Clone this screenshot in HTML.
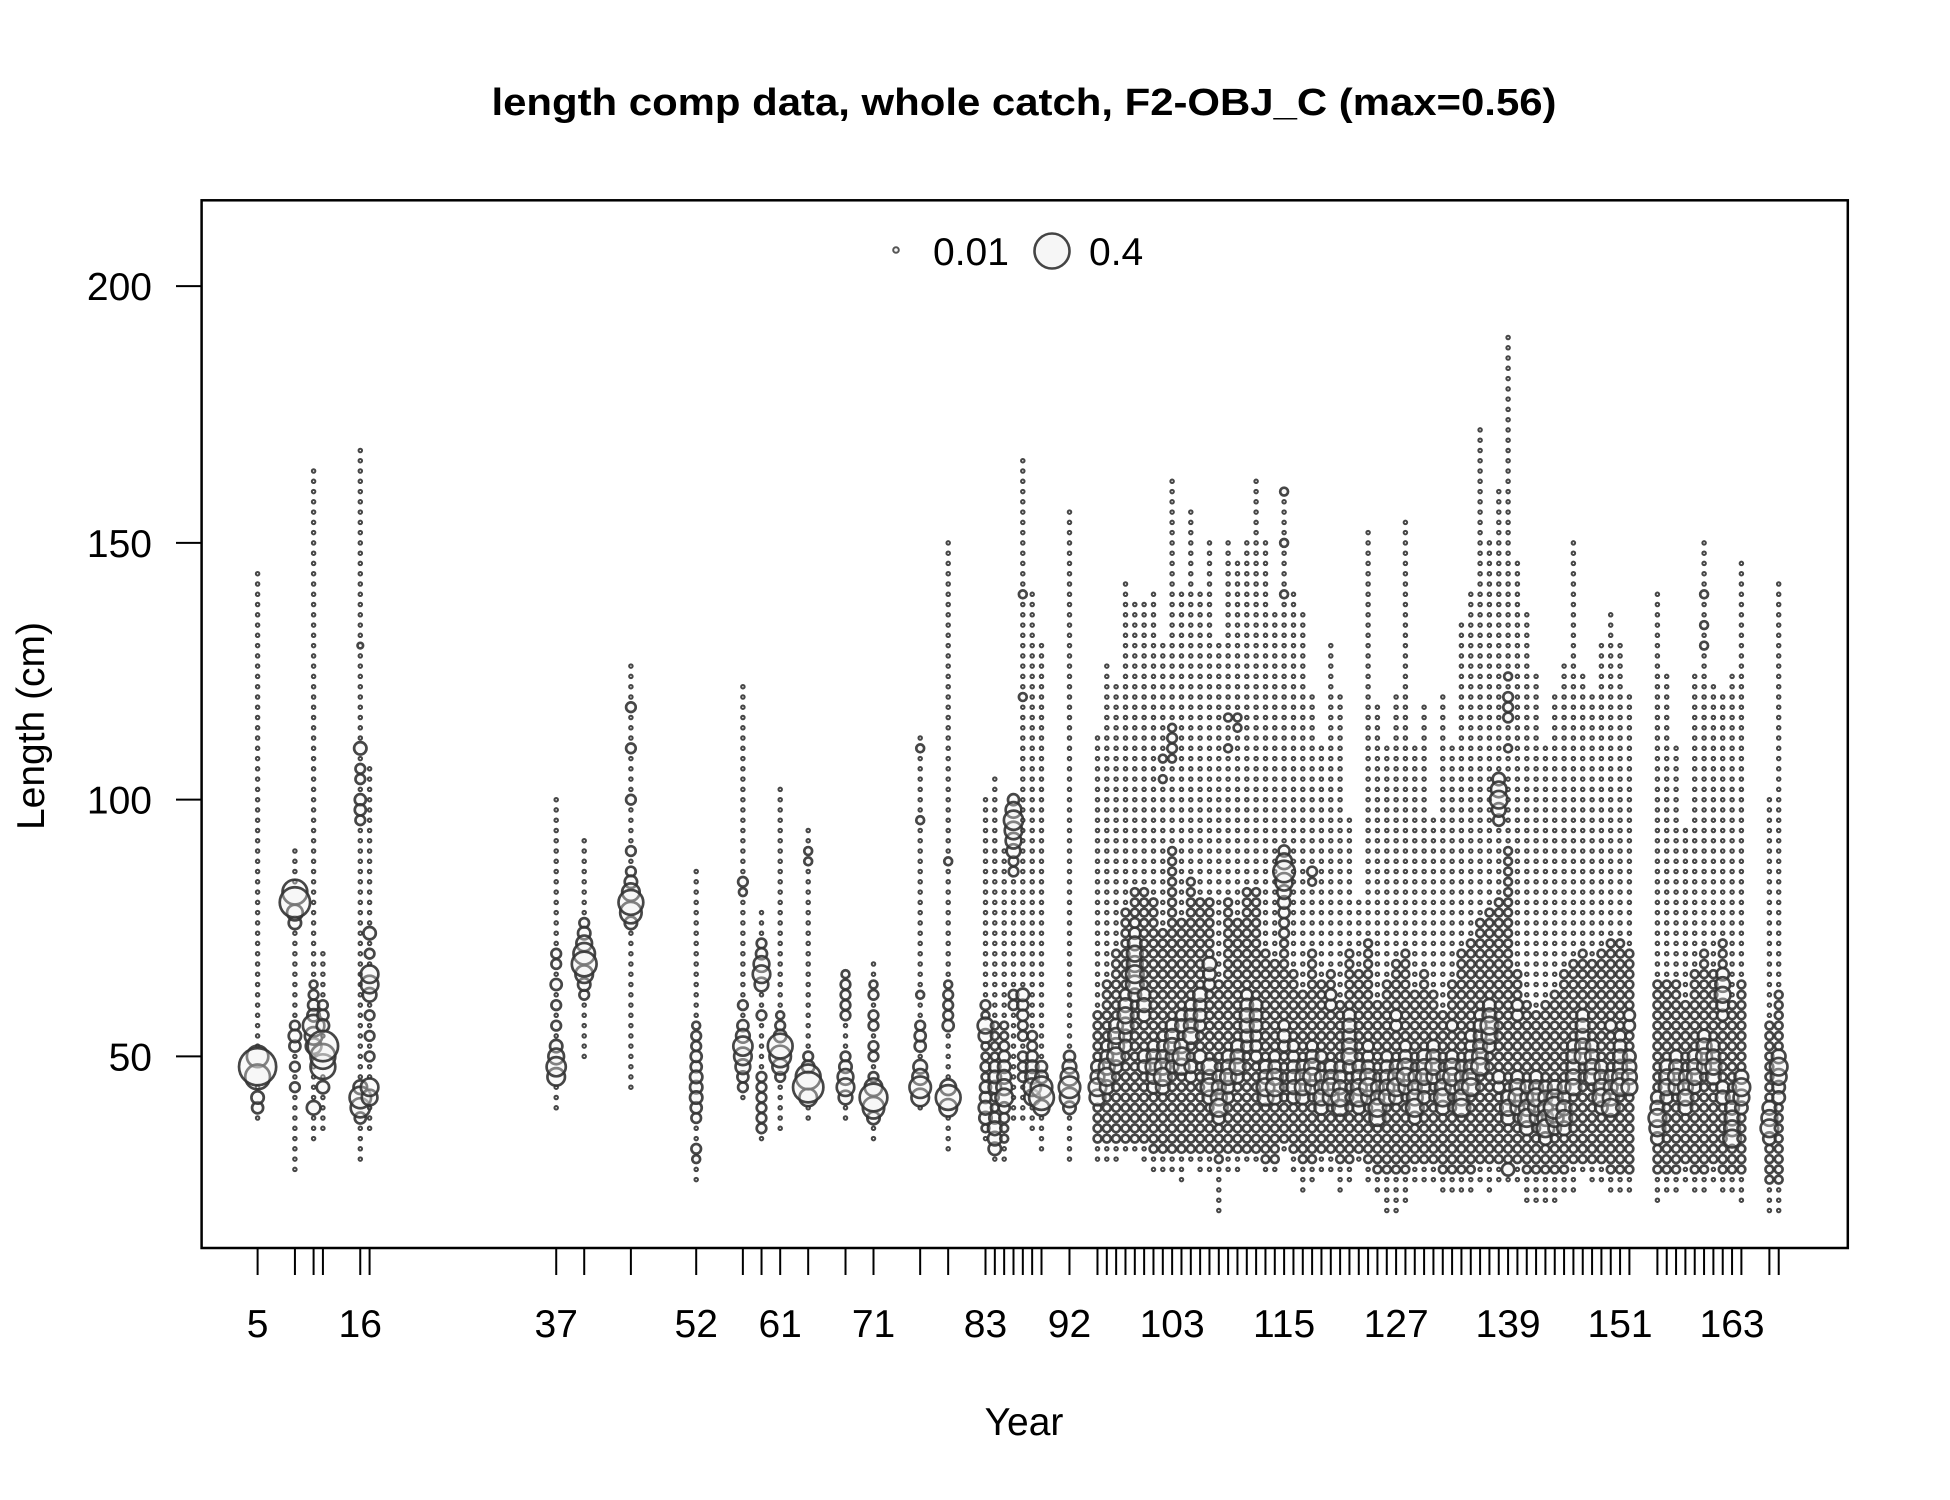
<!DOCTYPE html>
<html><head><meta charset="utf-8"><style>
html,body{margin:0;padding:0;background:#fff}
svg{display:block;font-family:"Liberation Sans",Arial,sans-serif}
</style></head><body>
<svg id="chart" width="1950" height="1500" viewBox="0 0 1950 1500" xmlns="http://www.w3.org/2000/svg">
<rect x="0" y="0" width="1950" height="1500" fill="#fff"/>
<text x="1024" y="115" text-anchor="middle" font-size="38" font-weight="bold" textLength="1065" lengthAdjust="spacingAndGlyphs">length comp data, whole catch, F2-OBJ_C (max=0.56)</text>
<g id="marks"></g>
<rect x="201.6" y="200.3" width="1646.2" height="1047.7" fill="none" stroke="#000" stroke-width="2.5"/>
<g id="yaxis"></g>
<g id="xaxis"></g>
<text transform="translate(44,726) rotate(-90)" text-anchor="middle" font-size="39">Length (cm)</text>
<text x="1024" y="1435" text-anchor="middle" font-size="39">Year</text>
<g>
<circle cx="896" cy="250" r="2.8" fill="rgba(240,240,240,0.5)" stroke="#555" stroke-width="2"/>
<text x="933" y="265" font-size="39">0.01</text>
<circle cx="1052" cy="251" r="17.5" fill="rgba(240,240,240,0.6)" stroke="#444" stroke-width="2.6"/>
<text x="1089" y="265" font-size="39">0.4</text>
</g>
</svg>
<script>
const years = [5,9,11,12,16,17,37,40,45,52,57,59,61,64,68,71,76,79,83,84,85,86,87,88,89,92,
95,96,97,98,99,100,101,102,103,104,105,106,107,108,109,110,111,112,113,114,115,116,117,118,119,120,121,122,123,124,125,126,127,128,129,130,131,132,133,134,135,136,137,138,139,140,141,142,143,144,145,146,147,148,149,150,151,152,155,156,157,158,159,160,161,162,163,164,167,168];
const minLen = [38,28,34,36,30,36,40,50,44,26,42,34,36,38,38,34,40,32,34,30,30,38,38,36,32,30,
30,30,30,32,32,30,28,28,28,26,30,28,28,20,28,28,30,30,28,28,32,28,24,26,28,28,24,26,30,26,24,20,20,22,26,26,26,24,24,24,24,26,24,26,26,26,22,22,22,22,24,24,28,26,26,24,24,24,22,24,24,26,24,24,26,24,24,22,20,20];
const maxLen = [144,90,164,70,168,106,100,92,126,86,122,78,102,94,66,68,112,150,100,104,90,100,166,140,130,156,
112,126,122,142,138,138,140,130,162,140,156,140,150,130,150,146,150,162,150,136,160,140,136,120,110,130,120,96,80,152,118,110,120,154,110,118,96,120,110,134,140,172,150,160,190,146,136,124,110,120,126,150,124,120,130,136,130,120,140,124,110,94,124,150,122,120,124,146,100,142];
const coreLo = [0,0,0,0,0,0,0,0,0,0,0,0,0,0,0,0,0,0,36,32,34,0,0,0,0,0,
34,34,34,34,34,34,32,32,32,32,32,32,32,30,32,32,32,32,30,30,34,32,30,30,32,32,30,30,32,30,28,28,28,28,30,30,30,28,28,28,28,30,30,30,30,30,28,28,28,28,28,30,30,30,30,28,28,28,28,28,28,30,28,28,30,28,28,28,26,26];
const coreHi = [0,0,0,0,0,0,0,0,0,0,0,0,0,0,0,0,0,0,60,56,56,0,0,0,0,0,
58,64,70,78,82,82,80,74,90,76,84,80,80,64,80,76,82,82,70,68,80,66,62,70,64,66,60,70,66,72,60,64,68,70,62,66,62,58,64,70,72,76,78,80,90,66,60,58,60,62,66,68,70,68,70,72,72,70,64,64,64,60,66,70,66,72,60,64,56,62];
const peaks = [
[[48,0.45],[46,0.2],[50,0.15],[42,0.05],[40,0.04]],
[[80,0.3],[82,0.2],[78,0.08],[76,0.05],[54,0.05],[52,0.04],[56,0.03],[48,0.03],[44,0.03]],
[[56,0.15],[54,0.1],[52,0.08],[40,0.06],[58,0.05],[60,0.04],[62,0.03],[64,0.02]],
[[52,0.3],[48,0.2],[50,0.2],[44,0.05],[56,0.05],[58,0.04],[60,0.03]],
[[42,0.15],[40,0.12],[110,0.05],[100,0.04],[98,0.04],[96,0.03],[104,0.03],[106,0.03],[44,0.06],[38,0.04],[130,0.01]],
[[64,0.1],[66,0.1],[62,0.06],[44,0.1],[42,0.08],[74,0.05],[70,0.03],[58,0.03],[54,0.03],[50,0.03]],
[[48,0.12],[46,0.1],[50,0.08],[52,0.05],[56,0.03],[60,0.03],[64,0.04],[68,0.03],[70,0.03]],
[[68,0.2],[70,0.15],[66,0.1],[72,0.08],[74,0.05],[64,0.05],[76,0.03],[62,0.03]],
[[80,0.2],[78,0.15],[82,0.1],[76,0.05],[84,0.05],[90,0.03],[100,0.03],[110,0.03],[118,0.03],[86,0.03]],
[[44,0.05],[46,0.05],[42,0.05],[48,0.04],[50,0.04],[40,0.04],[38,0.03],[52,0.03],[54,0.03],[56,0.02],[32,0.03],[30,0.02]],
[[52,0.12],[50,0.1],[48,0.07],[54,0.06],[56,0.04],[46,0.04],[44,0.03],[60,0.03],[84,0.03],[82,0.02]],
[[66,0.1],[68,0.08],[64,0.06],[70,0.04],[72,0.03],[58,0.03],[40,0.03],[38,0.03],[36,0.03],[42,0.03],[44,0.03],[46,0.03]],
[[52,0.2],[50,0.15],[48,0.08],[54,0.05],[46,0.03],[56,0.03],[58,0.02]],
[[44,0.3],[46,0.2],[42,0.1],[48,0.05],[50,0.03],[88,0.02],[90,0.02]],
[[44,0.1],[46,0.08],[42,0.06],[48,0.05],[50,0.03],[58,0.03],[60,0.03],[62,0.03],[64,0.03],[66,0.02]],
[[42,0.25],[40,0.15],[44,0.1],[38,0.05],[46,0.03],[50,0.03],[52,0.03],[56,0.03],[58,0.03],[62,0.03],[64,0.02]],
[[44,0.15],[42,0.1],[46,0.08],[48,0.06],[52,0.04],[54,0.04],[56,0.03],[62,0.02],[96,0.02],[110,0.02]],
[[42,0.2],[40,0.1],[44,0.08],[56,0.04],[58,0.03],[60,0.03],[62,0.03],[64,0.02],[88,0.02]],
[[56,0.08],[54,0.06],[40,0.06],[38,0.05],[42,0.04],[44,0.04],[60,0.03],[48,0.03]],
[[34,0.06],[32,0.05],[36,0.06],[44,0.05],[46,0.05],[48,0.04],[38,0.04]],
[[42,0.1],[44,0.08],[46,0.06],[48,0.05],[50,0.04],[40,0.04],[52,0.03],[38,0.03]],
[[96,0.12],[94,0.1],[92,0.08],[98,0.08],[90,0.06],[100,0.04],[88,0.03],[86,0.03],[62,0.03],[60,0.03]],
[[62,0.05],[60,0.04],[58,0.04],[56,0.03],[54,0.03],[50,0.03],[48,0.03],[46,0.03],[140,0.02],[120,0.02]],
[[44,0.1],[42,0.08],[46,0.06],[48,0.05],[50,0.04],[52,0.03],[54,0.03]],
[[42,0.2],[44,0.15],[40,0.08],[46,0.05],[48,0.04]],
[[44,0.15],[42,0.12],[46,0.1],[48,0.06],[40,0.05],[50,0.04]],
[[44,0.1],[42,0.08],[46,0.06],[48,0.05]],
[[46,0.1],[48,0.08],[44,0.06],[50,0.05],[52,0.04]],
[[50,0.1],[52,0.08],[54,0.08],[56,0.06],[48,0.05]],
[[56,0.08],[58,0.08],[60,0.06],[54,0.05],[52,0.05],[62,0.04]],
[[64,0.1],[66,0.1],[68,0.08],[70,0.08],[72,0.06],[62,0.05],[74,0.04],[76,0.03]],
[[60,0.06],[62,0.05],[58,0.05],[50,0.05],[48,0.05]],
[[48,0.08],[46,0.06],[50,0.06],[44,0.05],[52,0.04]],
[[46,0.1],[48,0.08],[44,0.06],[50,0.05],[52,0.04],[54,0.03],[104,0.02],[108,0.02]],
[[52,0.08],[54,0.06],[56,0.05],[50,0.05],[48,0.05],[110,0.03],[112,0.03],[114,0.02],[108,0.02]],
[[50,0.1],[48,0.08],[52,0.06],[56,0.05],[58,0.04]],
[[54,0.08],[56,0.06],[58,0.05],[60,0.04],[48,0.05],[46,0.04]],
[[62,0.06],[60,0.05],[58,0.05],[56,0.04],[50,0.05]],
[[48,0.08],[44,0.1],[42,0.06],[46,0.06],[68,0.06],[66,0.05],[64,0.04]],
[[40,0.1],[42,0.08],[44,0.06],[46,0.05],[38,0.05]],
[[46,0.08],[48,0.06],[50,0.05],[44,0.05],[42,0.04],[110,0.02],[116,0.02]],
[[48,0.08],[50,0.06],[52,0.05],[46,0.05],[114,0.02],[116,0.02]],
[[56,0.06],[58,0.06],[60,0.05],[54,0.05],[52,0.04],[62,0.04]],
[[60,0.05],[58,0.05],[56,0.05],[54,0.04],[52,0.04],[50,0.04]],
[[44,0.1],[42,0.08],[46,0.06],[48,0.05]],
[[44,0.1],[46,0.08],[42,0.06],[48,0.05],[50,0.04]],
[[86,0.15],[84,0.1],[88,0.08],[82,0.06],[80,0.05],[90,0.04],[78,0.04],[76,0.03],[74,0.03],[54,0.05],[56,0.04],[52,0.04],[140,0.02],[150,0.02],[160,0.02]],
[[46,0.06],[44,0.06],[42,0.05],[48,0.05],[50,0.04],[52,0.04]],
[[44,0.08],[46,0.07],[42,0.06],[48,0.05]],
[[46,0.1],[48,0.08],[44,0.06],[50,0.05],[52,0.04],[86,0.03],[84,0.02]],
[[42,0.08],[40,0.06],[44,0.06],[46,0.05],[50,0.04]],
[[44,0.1],[42,0.08],[46,0.06],[48,0.05],[60,0.04],[62,0.04]],
[[42,0.1],[40,0.08],[44,0.06],[46,0.05],[48,0.04]],
[[50,0.08],[52,0.07],[54,0.06],[56,0.06],[58,0.05],[48,0.05]],
[[42,0.1],[44,0.08],[46,0.06],[48,0.05],[40,0.05]],
[[44,0.1],[46,0.08],[42,0.06],[48,0.05],[50,0.04],[52,0.04]],
[[40,0.1],[38,0.08],[42,0.06],[44,0.05]],
[[42,0.08],[44,0.07],[46,0.06],[48,0.05],[50,0.04]],
[[44,0.1],[46,0.08],[42,0.06],[48,0.05],[56,0.04],[58,0.04]],
[[46,0.1],[48,0.08],[44,0.06],[50,0.05],[52,0.04]],
[[40,0.1],[42,0.08],[44,0.06],[46,0.05],[38,0.05]],
[[46,0.08],[48,0.07],[50,0.06],[44,0.05],[42,0.05]],
[[48,0.08],[50,0.06],[46,0.06],[52,0.05]],
[[42,0.1],[44,0.08],[40,0.06],[46,0.05]],
[[46,0.1],[48,0.08],[44,0.06],[50,0.05],[56,0.04]],
[[40,0.1],[42,0.08],[44,0.06],[46,0.05],[48,0.04]],
[[44,0.1],[46,0.08],[48,0.06],[50,0.05],[52,0.04],[54,0.04]],
[[48,0.1],[50,0.08],[52,0.06],[54,0.05],[56,0.05],[58,0.04]],
[[56,0.1],[54,0.08],[58,0.06],[60,0.05],[52,0.05]],
[[100,0.1],[102,0.08],[98,0.06],[104,0.05],[96,0.04],[46,0.05],[44,0.04]],
[[40,0.08],[42,0.06],[38,0.06],[28,0.05],[120,0.03],[118,0.03],[116,0.03],[124,0.02],[110,0.02]],
[[42,0.1],[44,0.08],[40,0.06],[46,0.05],[58,0.04],[60,0.04]],
[[38,0.1],[40,0.08],[36,0.06],[42,0.05],[44,0.05]],
[[42,0.1],[40,0.08],[44,0.06],[46,0.05],[38,0.05]],
[[36,0.1],[38,0.08],[40,0.07],[42,0.06],[44,0.05],[34,0.05]],
[[40,0.15],[38,0.1],[42,0.08],[44,0.06],[36,0.05]],
[[38,0.08],[40,0.07],[36,0.06],[42,0.05],[44,0.05]],
[[44,0.08],[46,0.07],[48,0.06],[50,0.06],[52,0.05]],
[[50,0.08],[52,0.07],[54,0.06],[56,0.06],[58,0.05]],
[[46,0.08],[48,0.07],[50,0.06],[52,0.05]],
[[42,0.1],[44,0.08],[46,0.06],[48,0.05],[40,0.05]],
[[40,0.1],[42,0.08],[44,0.06],[46,0.05],[56,0.04]],
[[44,0.1],[46,0.08],[48,0.06],[50,0.06],[52,0.05],[54,0.04]],
[[44,0.08],[46,0.07],[48,0.06],[50,0.05],[56,0.04],[58,0.04]],
[[38,0.1],[36,0.08],[40,0.06],[42,0.05],[34,0.05]],
[[44,0.08],[46,0.07],[48,0.06],[42,0.05]],
[[46,0.08],[44,0.07],[48,0.06],[50,0.05]],
[[42,0.08],[44,0.07],[40,0.06],[46,0.05]],
[[46,0.08],[48,0.07],[50,0.06],[44,0.05]],
[[50,0.08],[52,0.07],[48,0.06],[54,0.05],[130,0.02],[134,0.02],[140,0.02]],
[[48,0.08],[46,0.07],[50,0.06],[52,0.05]],
[[62,0.08],[64,0.07],[66,0.05],[60,0.05],[58,0.04],[42,0.06],[44,0.05]],
[[34,0.1],[36,0.08],[38,0.07],[40,0.06],[42,0.05]],
[[44,0.1],[42,0.08],[46,0.06],[40,0.05]],
[[36,0.1],[38,0.08],[40,0.06],[34,0.05]],
[[48,0.1],[46,0.08],[50,0.06],[44,0.05],[42,0.05]]
];
const bgProp = 0.004;
const coreProp = 0.02;
const yTicks = [50,100,150,200];
const xLabels = [5,16,37,52,61,71,83,92,103,115,127,139,151,163];

const NS = "http://www.w3.org/2000/svg";
function xScale(yr){ return 257.6 + (yr - 5) * 9.332; }
function yScale(v){ return 1056.4 - (v - 50) * 5.135; }
function rScale(p){ return 27.7 * Math.sqrt(p); }

const marks = document.getElementById('marks');
function bubble(yr, len, p){
  const c = document.createElementNS(NS,'circle');
  
  
  c.setAttribute('cx', xScale(yr).toFixed(1));
  c.setAttribute('cy', yScale(len).toFixed(1));
  const r = rScale(p);
  c.setAttribute('r', r.toFixed(2));
  c.setAttribute('fill', 'rgba(240,240,240,0.35)');
  c.setAttribute('stroke', 'rgba(50,50,50,0.9)');
  c.setAttribute('stroke-width', r < 2.2 ? '2' : '2.7');
  marks.appendChild(c);
}
years.forEach((yr,i)=>{
  const pk = {};
  peaks[i].forEach(([l,p])=>{ pk[l]=p; });
  for(let l=minLen[i]; l<=maxLen[i]; l+=2){
    if(pk[l]!==undefined) continue;
    const inCore = coreLo[i] && l>=coreLo[i] && l<=coreHi[i];
    bubble(yr, l, inCore ? coreProp : bgProp);
  }
  peaks[i].slice().sort((a,b)=>a[1]-b[1]).forEach(([l,p])=>bubble(yr,l,p));
});

const yax = document.getElementById('yaxis');
yTicks.forEach(v=>{
  const y = yScale(v);
  const t = document.createElementNS(NS,'line');
  
  
  t.setAttribute('x1','176'); t.setAttribute('x2','201.6');
  t.setAttribute('y1',y); t.setAttribute('y2',y);
  t.setAttribute('stroke','#000'); t.setAttribute('stroke-width','2');
  yax.appendChild(t);
  const tx = document.createElementNS(NS,'text');
  
  
  tx.setAttribute('x','152'); tx.setAttribute('y',y+14);
  tx.setAttribute('text-anchor','end'); tx.setAttribute('font-size','39');
  tx.textContent = v;
  yax.appendChild(tx);
});
const xax = document.getElementById('xaxis');
years.forEach(yr=>{
  const x = xScale(yr);
  const t = document.createElementNS(NS,'line');
  
  
  t.setAttribute('x1',x); t.setAttribute('x2',x);
  t.setAttribute('y1','1248'); t.setAttribute('y2','1275');
  t.setAttribute('stroke','#000'); t.setAttribute('stroke-width','2');
  xax.appendChild(t);
});
xLabels.forEach(yr=>{
  const tx = document.createElementNS(NS,'text');
  
  
  tx.setAttribute('x',xScale(yr)); tx.setAttribute('y','1337');
  tx.setAttribute('text-anchor','middle'); tx.setAttribute('font-size','39');
  tx.textContent = yr;
  xax.appendChild(tx);
});
</script>
</body></html>
